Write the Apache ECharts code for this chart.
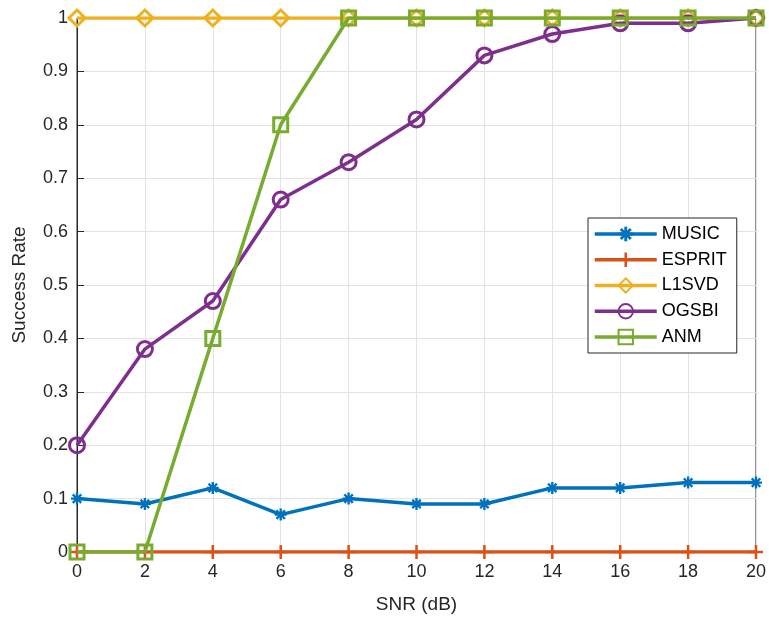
<!DOCTYPE html>
<html><head><meta charset="utf-8">
<script src="https://cdn.jsdelivr.net/npm/echarts@6/dist/echarts.min.js"></script>
<style>html,body{margin:0;padding:0;background:#fff}#c{width:769px;height:622px}</style>
</head><body><div id="c"></div>
<script>
const snr = [0, 2, 4, 6, 8, 10, 12, 14, 16, 18, 20];
const music = [0.10, 0.09, 0.12, 0.07, 0.10, 0.09, 0.09, 0.12, 0.12, 0.13, 0.13];
const esprit = [0, 0, 0, 0, 0, 0, 0, 0, 0, 0, 0];
const l1svd = [1, 1, 1, 1, 1, 1, 1, 1, 1, 1, 1];
const ogsbi = [0.20, 0.38, 0.47, 0.66, 0.73, 0.81, 0.93, 0.97, 0.99, 0.99, 1.00];
const anm = [0, 0, 0.40, 0.80, 1, 1, 1, 1, 1, 1, 1];
const names = ['MUSIC', 'ESPRIT', 'L1SVD', 'OGSBI', 'ANM'];
const colors = ['#0072BD', '#D95319', '#EDB120', '#7E2F8E', '#77AC30'];

const asterisk = 'path://M-2,-10L2,-10L2,-4.5L5.5,-8.5L8.5,-5.5L4.5,-2L10,-2L10,2L4.5,2L8.5,5.5L5.5,8.5L2,4.5L2,10L-2,10L-2,4.5L-5.5,8.5L-8.5,5.5L-4.5,2L-10,2L-10,-2L-4.5,-2L-8.5,-5.5L-5.5,-8.5L-2,-4.5Z';
const plus = 'path://M-1.8,-10L1.8,-10L1.8,-1.8L10,-1.8L10,1.8L1.8,1.8L1.8,10L-1.8,10L-1.8,1.8L-10,1.8L-10,-1.8L-1.8,-1.8Z';

function mk(i, data, symbol, size, hollow) {
  return {
    name: names[i], type: 'line', data: snr.map((x, k) => [x, data[k]]),
    symbol: symbol, symbolSize: size, showAllSymbol: true,
    color: colors[i],
    lineStyle: { color: colors[i], width: 3.5 },
    itemStyle: hollow ? { color: 'rgba(255,255,255,0)', borderColor: colors[i], borderWidth: 3 }
                      : { color: colors[i], borderWidth: 0 },
    emphasis: { disabled: true },
    animation: false, z: 2 + i
  };
}

const chart = echarts.init(document.getElementById('c'), null, { renderer: 'canvas' });
chart.setOption({
  animation: false,
  backgroundColor: '#fff',
  grid: { left: 77, right: 13, top: 18, bottom: 70, containLabel: false, outerBoundsMode: 'none',
    show: true, borderColor: '#262626', borderWidth: 1, backgroundColor: 'transparent' },
  xAxis: {
    type: 'value', min: 0, max: 20, interval: 2,
    name: 'SNR (dB)', nameLocation: 'middle', nameGap: 43,
    nameTextStyle: { fontFamily: 'Liberation Sans', fontSize: 19, color: '#262626' },
    axisLine: { show: true, onZero: false, lineStyle: { color: '#262626', width: 1 } },
    axisTick: { show: true, inside: true, length: 7, lineStyle: { color: '#262626' } },
    axisLabel: { fontFamily: 'Liberation Sans', fontSize: 18, color: '#262626', margin: 11 },
    splitLine: { show: true, lineStyle: { color: '#e3e3e3', width: 1 } }
  },
  yAxis: {
    type: 'value', min: 0, max: 1, interval: 0.1,
    name: 'Success Rate', nameLocation: 'middle', nameGap: 48,
    nameTextStyle: { fontFamily: 'Liberation Sans', fontSize: 19, color: '#262626' },
    axisLine: { show: true, onZero: false, lineStyle: { color: '#262626', width: 1 } },
    axisTick: { show: true, inside: true, length: 7, lineStyle: { color: '#262626' } },
    axisLabel: { fontFamily: 'Liberation Sans', fontSize: 18, color: '#262626', margin: 9,
      formatter: v => (Math.round(v * 10) / 10).toString() },
    splitLine: { show: true, lineStyle: { color: '#e3e3e3', width: 1 } }
  },
  legend: {
    orient: 'vertical', left: 588, top: 218,
    data: names,
    itemWidth: 62, itemHeight: 18, itemGap: 7.75,
    padding: [7, 10, 7, 5],
    backgroundColor: '#fff', borderColor: '#262626', borderWidth: 1,
    textStyle: { fontFamily: 'Liberation Sans', fontSize: 18, lineHeight: 18, color: '#000' },
    lineStyle: { width: 3.5 },
    selectedMode: false
  },
  series: [
    mk(0, music, asterisk, 12, false),
    mk(1, esprit, plus, 14, false),
    mk(2, l1svd, 'diamond', 16, true),
    mk(3, ogsbi, 'circle', 15, true),
    mk(4, anm, 'rect', 14, true)
  ]
});
</script></body></html>
